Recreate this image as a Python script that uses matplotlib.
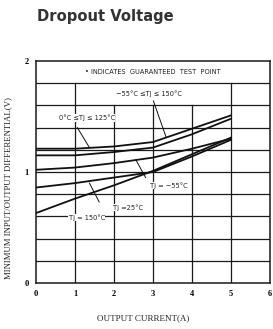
import matplotlib
matplotlib.use("Agg")
import matplotlib.pyplot as plt

# Data
current = [0, 1, 2, 3, 4, 5]
guar_wide = [1.21, 1.21, 1.23, 1.27, 1.39, 1.51]     # -55C <= Tj <= 150C
guar_narrow = [1.15, 1.15, 1.18, 1.22, 1.34, 1.48]   # 0C <= Tj <= 125C
tj_m55 = [1.02, 1.04, 1.08, 1.13, 1.21, 1.30]
tj_25 = [0.86, 0.90, 0.95, 1.00, 1.14, 1.29]
tj_150 = [0.63, 0.76, 0.88, 1.01, 1.16, 1.31]
xticks = [0, 1, 2, 3, 4, 5, 6]
yticks = [0, 1, 2]

W, H = 273, 329
fig = plt.figure(figsize=(W / 100, H / 100), dpi=100)
ax = fig.add_axes([36 / W, 1 - 283 / H, (270 - 36) / W, (283 - 61) / H])
ax.set_xlim(0, 6)
ax.set_ylim(0, 2)

gc = "#1a1a1a"
# horizontal grid every 0.2
for i in range(1, 10):
    ax.plot([0, 6], [i * 0.2, i * 0.2], color=gc, lw=0.9, zorder=1)
# vertical grid
for xv in [1, 5]:
    ax.plot([xv, xv], [0, 1.8], color=gc, lw=0.9, zorder=1)
for xv in [2, 3, 4]:
    ax.plot([xv, xv], [0, 1.6], color=gc, lw=0.9, zorder=1)

for s in ax.spines.values():
    s.set_linewidth(1.1)
    s.set_color(gc)

lc = "#111111"
for ys in [guar_wide, guar_narrow, tj_m55, tj_25, tj_150]:
    ax.plot(current, ys, color=lc, lw=1.3, zorder=3)

serif = "Liberation Serif"
ax.set_xticks(xticks)
ax.set_yticks(yticks)
ax.set_xticklabels([str(v) for v in xticks], fontsize=6, family=serif, fontweight="bold")
ax.set_yticklabels([str(v) for v in yticks], fontsize=6, family=serif, fontweight="bold")
ax.tick_params(length=0, pad=5)

tk = dict(fontsize=4.8, family="DejaVu Sans", color="#222", zorder=5)
ax.text(3.0, 1.9, "\u2022 INDICATES  GUARANTEED  TEST  POINT", ha="center", va="center", **tk)
ax.text(2.9, 1.71, "\u221255\u00b0C \u2264Tj \u2264 150\u00b0C", ha="center", va="center",
        bbox=dict(facecolor="white", edgecolor="none", pad=0.5), **tk)
ax.text(1.3, 1.49, "0\u00b0C \u2264Tj \u2264 125\u00b0C", ha="center", va="center",
        bbox=dict(facecolor="white", edgecolor="none", pad=0.5), **tk)
ax.text(3.4, 0.88, "Tj = \u221255\u00b0C", ha="center", va="center",
        bbox=dict(facecolor="white", edgecolor="none", pad=0.3), **tk)
ax.text(2.35, 0.68, "Tj =25\u00b0C", ha="center", va="center",
        bbox=dict(facecolor="white", edgecolor="none", pad=0.3), **tk)
ax.text(1.3, 0.59, "Tj = 150\u00b0C", ha="center", va="center",
        bbox=dict(facecolor="white", edgecolor="none", pad=0.3), **tk)

# leader lines
ll = dict(color=lc, lw=0.7, zorder=4)
ax.plot([1.06, 1.37], [1.40, 1.22], **ll)
ax.plot([3.01, 3.34], [1.64, 1.31], **ll)
ax.plot([2.56, 2.81], [1.11, 0.95], **ll)
ax.plot([1.37, 1.62], [0.90, 0.73], **ll)

fig.text(37 / W, 1 - 17 / H, "Dropout Voltage", fontsize=10.6, fontweight="bold",
         ha="left", va="center", color="#333")
fig.text(143 / W, 1 - 318 / H, "OUTPUT CURRENT(A)", fontsize=6.5, family=serif,
         ha="center", va="center", color="#222")
fig.text(8 / W, 1 - 188 / H, "MINIMUM INPUT/OUTPUT DIFFERENTIAL(V)", fontsize=6.3,
         family=serif, rotation=90, ha="center", va="center", color="#222")

fig.savefig("out.png", dpi=100)
